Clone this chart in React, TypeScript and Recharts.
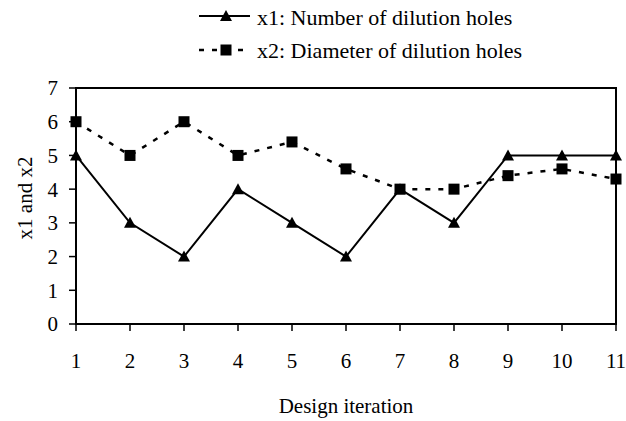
import React from "react";
import { LineChart, Line, XAxis, YAxis, Legend, ReferenceArea } from "recharts";

const iterations = [1, 2, 3, 4, 5, 6, 7, 8, 9, 10, 11];
const x1Values = [5, 3, 2, 4, 3, 2, 4, 3, 5, 5, 5];
const x2Values = [6, 5, 6, 5, 5.4, 4.6, 4, 4, 4.4, 4.6, 4.3];
const yTicks = [0, 1, 2, 3, 4, 5, 6, 7];
const seriesNames = ["x1: Number of dilution holes", "x2: Diameter of dilution holes"];
const xLabel = "Design iteration";
const yLabel = "x1 and x2";

const data = iterations.map((it, i) => ({ it, x1: x1Values[i], x2: x2Values[i] }));

const FONT = "Liberation Serif, Times New Roman, DejaVu Serif, serif";
const textStyle = { fontFamily: FONT };

const Triangle = (props: any) => {
  const { cx, cy } = props;
  if (cx == null || cy == null) return null;
  return (
    <polygon
      key={`t-${props.index}`}
      points={`${cx},${cy - 6} ${cx - 6},${cy + 5} ${cx + 6},${cy + 5}`}
      fill="#000"
    />
  );
};

const Square = (props: any) => {
  const { cx, cy } = props;
  if (cx == null || cy == null) return null;
  return <rect key={`s-${props.index}`} x={cx - 5.5} y={cy - 5.5} width={11} height={11} fill="#000" />;
};

const LegendContent = () => (
  <svg width={626} height={66} style={{ display: "block" }}>
    <line x1={199} x2={250} y1={16} y2={16} stroke="#000" strokeWidth={2} />
    <polygon points={`226,10 220,21 232,21`} fill="#000" />
    <text x={257} y={25} style={textStyle} fontSize={22} fill="#000">
      {seriesNames[0]}
    </text>
    <line x1={199} x2={250} y1={50} y2={50} stroke="#000" strokeWidth={2.5} strokeDasharray="5 8" />
    <rect x={220.5} y={44.5} width={11} height={11} fill="#000" />
    <text x={257} y={58} style={textStyle} fontSize={22} fill="#000">
      {seriesNames[1]}
    </text>
  </svg>
);

export default function App() {
  return (
    <div
      style={{
        position: "absolute",
        left: 0,
        top: 0,
        width: 626,
        height: 421,
        background: "#fff",
        fontFamily: FONT,
      }}
    >
      <LineChart
        width={626}
        height={421}
        data={data}
        margin={{ top: 88, right: 10, left: 0, bottom: 0 }}
        style={{ fontFamily: FONT }}
      >
        <XAxis
          dataKey="it"
          type="number"
          domain={[1, 11]}
          ticks={iterations}
          interval={0}
          height={97}
          axisLine={{ stroke: "#000", strokeWidth: 2 }}
          tickLine={{ stroke: "#000", strokeWidth: 1.5 }}
          tickSize={7}
          tickMargin={22}
          tick={{ fill: "#000", fontSize: 21, style: textStyle }}
          label={{
            content: (p: any) => {
              const vb = p.viewBox || {};
              return (
                <text
                  x={vb.x + vb.width / 2}
                  y={vb.y + 89}
                  textAnchor="middle"
                  style={textStyle}
                  fontSize={21}
                  fill="#000"
                >
                  {xLabel}
                </text>
              );
            },
          }}
        />
        <YAxis
          type="number"
          domain={[0, 7]}
          ticks={yTicks}
          interval={0}
          width={76}
          axisLine={{ stroke: "#000", strokeWidth: 2 }}
          tickLine={{ stroke: "#000", strokeWidth: 1.5 }}
          tickSize={7}
          tickMargin={11}
          tick={{ fill: "#000", fontSize: 21, style: textStyle }}
          label={{
            content: (p: any) => {
              const vb = p.viewBox || {};
              const x = vb.x + 32;
              const y = vb.y + vb.height / 2 - 8;
              return (
                <text
                  x={x}
                  y={y}
                  transform={`rotate(-90, ${x}, ${y})`}
                  textAnchor="middle"
                  style={textStyle}
                  fontSize={21}
                  fill="#000"
                >
                  {yLabel}
                </text>
              );
            },
          }}
        />
        <ReferenceArea x1={1} x2={11} y1={0} y2={7} fill="none" stroke="#000" strokeWidth={2} />
        <Legend
          verticalAlign="middle"
          align="center"
          layout="horizontal"
          wrapperStyle={{ top: 0, left: 0, width: 626 }}
          content={() => <LegendContent />}
        />
        <Line
          type="linear"
          dataKey="x1"
          name={seriesNames[0]}
          stroke="#000"
          strokeWidth={2}
          dot={Triangle}
          activeDot={false}
          isAnimationActive={false}
        />
        <Line
          type="linear"
          dataKey="x2"
          name={seriesNames[1]}
          stroke="#000"
          strokeWidth={2.5}
          strokeDasharray="5 8"
          dot={Square}
          activeDot={false}
          isAnimationActive={false}
        />
      </LineChart>
    </div>
  );
}
